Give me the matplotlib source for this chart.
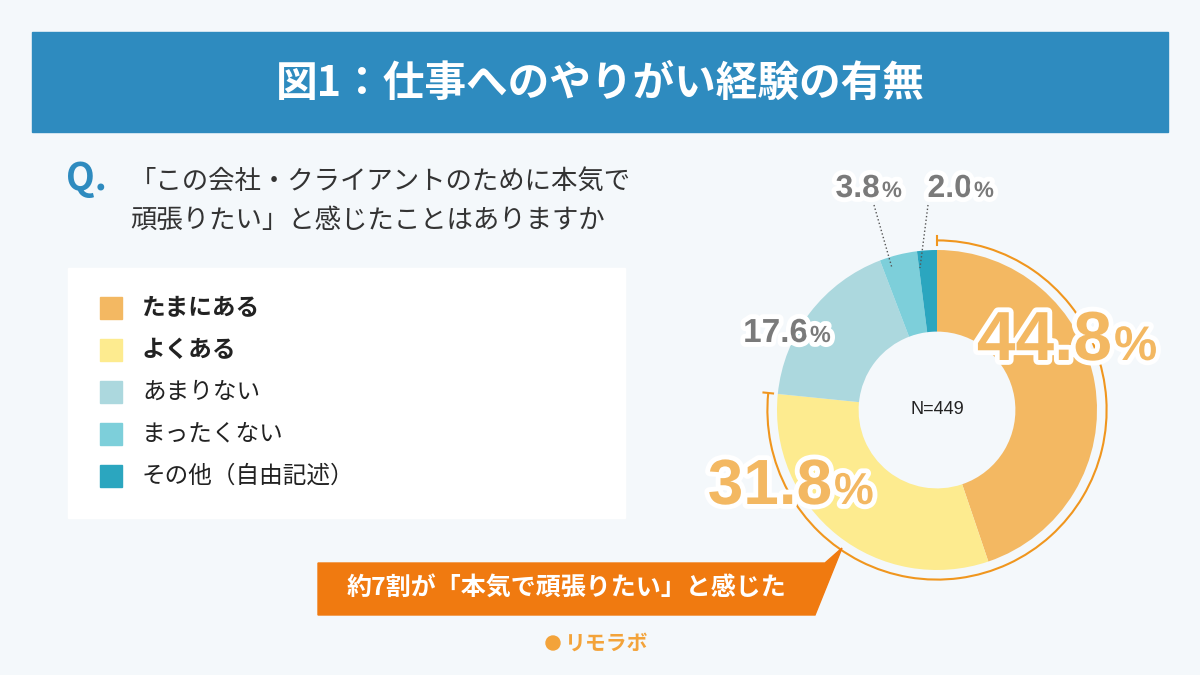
import numpy as np
import matplotlib.pyplot as plt
import matplotlib.patheffects as pe
from matplotlib.patches import Rectangle, Polygon, Circle, Arc

plt.rcParams['font.family'] = ['Noto Sans CJK JP', 'DejaVu Sans']

categories = ["たまにある", "よくある", "あまりない", "まったくない", "その他（自由記述）"]
values = [44.8, 31.8, 17.6, 3.8, 2.0]
colors = ["#f3b862", "#fdeb8f", "#acd8de", "#7dcfda", "#2ba6bf"]
bold_items = [True, True, False, False, False]
n_total = 449

bg = "#f4f8fb"
fig = plt.figure(figsize=(12, 6.75), dpi=100, facecolor=bg)

def pixel_axes():
    a = fig.add_axes([0, 0, 1, 1])
    a.set_xlim(0, 1200)
    a.set_ylim(675, 0)
    a.axis("off")
    a.patch.set_alpha(0)
    return a

page = pixel_axes()

page.add_patch(Rectangle((32, 32), 1136, 100, color="#2e8bbf"))
page.text(600, 84, "図1：仕事へのやりがい経験の有無", color="white", fontsize=30,
          fontweight="bold", ha="center", va="center")

page.text(66, 178, "Q.", color="#2e8bbf", fontsize=27, fontweight="bold",
          ha="left", va="center")
page.text(130, 181, "「この会社・クライアントのために本気で", fontsize=19,
          color="#333333", ha="left", va="center")
page.text(130, 220, "頑張りたい」と感じたことはありますか", fontsize=19,
          color="#333333", ha="left", va="center")

# legend box
page.add_patch(Rectangle((68, 268), 557, 250, color="white"))
for i, (cat, col, b) in enumerate(zip(categories, colors, bold_items)):
    y = 308 + i * 42
    page.add_patch(Rectangle((100, y - 11), 22, 22, color=col))
    page.text(142, y, cat, fontsize=17, color="#222222",
              fontweight="bold" if b else "normal", ha="left", va="center")

# donut
cx, cy = 937, 410
ax = fig.add_axes([(cx - 200) / 1200, (675 - cy - 200) / 675, 400 / 1200, 400 / 675])
ax.set_xlim(-1.25, 1.25)
ax.set_ylim(-1.25, 1.25)
ax.set_aspect("equal")
ax.axis("off")
ax.pie(values, colors=colors, startangle=90, counterclock=False, radius=1.0,
       wedgeprops=dict(width=0.51, linewidth=0))
ax.text(0, 0, f"N={n_total}", fontsize=13, color="#222222", ha="center", va="center",
        family="Liberation Sans")

# orange arc over first two slices
share = values[0] + values[1]
end_ang = 90 - share * 3.6
ax.add_patch(Arc((0, 0), 2.12, 2.12, theta1=end_ang, theta2=90, color="#f0961e", lw=1.5))
for a in (90, end_ang):
    r = np.deg2rad(a)
    ax.plot([1.03 * np.cos(r), 1.09 * np.cos(r)], [1.03 * np.sin(r), 1.09 * np.sin(r)],
            color="#f0961e", lw=1.5)

top = pixel_axes()

# callout
top.add_patch(Polygon([[318, 563], [825, 563], [842, 548], [815, 615], [318, 615]],
                      closed=True, color="#f07a10"))
top.text(566, 589, "約7割が「本気で頑張りたい」と感じた", color="white",
         fontsize=18, fontweight="bold", ha="center", va="center")

# logo
top.add_patch(Circle((553, 643), 7, color="#f3a33a"))
top.text(565, 643, "リモラボ", color="#f3a33a", fontsize=15, fontweight="bold",
         ha="left", va="center")

stroke = [pe.withStroke(linewidth=7, foreground="white")]

def pct_label(x, y, val, size, color):
    top.text(x, y, f"{val:.1f}", fontsize=size, fontweight="bold", color=color,
             ha="right", va="baseline", family="Liberation Sans", path_effects=stroke)
    top.text(x + 2, y, "%", fontsize=size * 0.7, fontweight="bold", color=color,
             ha="left", va="baseline", family="Liberation Sans", path_effects=stroke)

pct_label(1112, 360, values[0], 50, "#f3b862")
pct_label(832, 504, values[1], 46, "#f3b862")
pct_label(808, 342, values[2], 24, "#7a7a7a")
pct_label(880, 197, values[3], 23, "#7a7a7a")
pct_label(972, 197, values[4], 23, "#7a7a7a")

# leader lines
top.plot([874, 892], [205, 268], ls=":", color="#555555", lw=1)
top.plot([928, 920], [205, 268], ls=":", color="#555555", lw=1)

fig.savefig("out.png", dpi=100, facecolor=bg)
